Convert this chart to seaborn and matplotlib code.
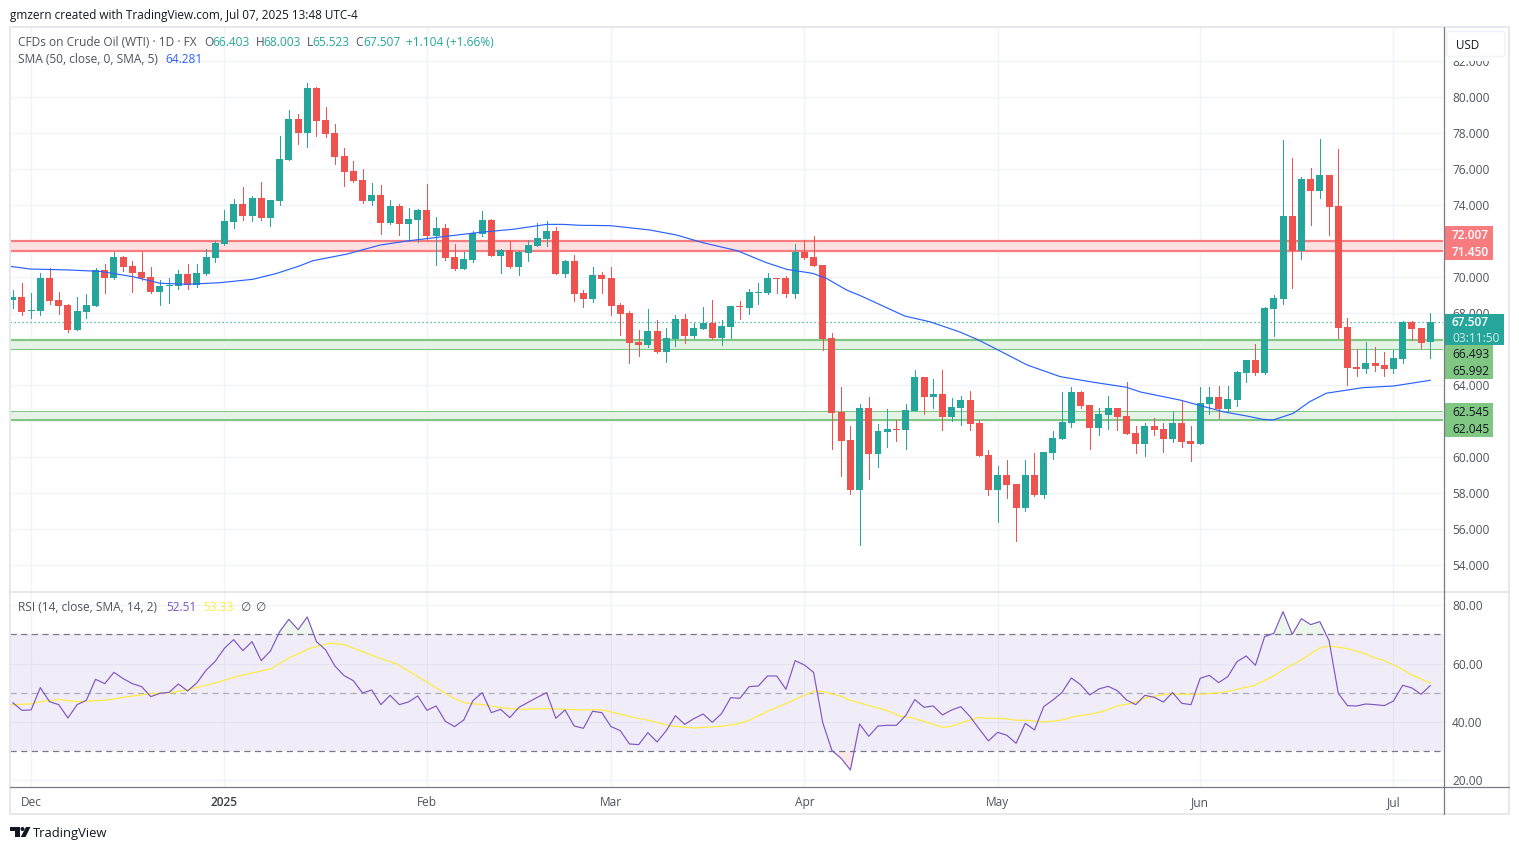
import numpy as np
import pandas as pd
import seaborn as sns
import matplotlib
matplotlib.use('Agg')
import matplotlib.pyplot as plt
from matplotlib.patches import Rectangle, Polygon, Circle, FancyBboxPatch

# candles, one per trading day, Dec 2024 -> Jul 2025
opens = [
    68.74,68.91,68.15,68.13,69.96,68.74,68.46,67.07,68.07,68.41,
    70.41,69.96,71.13,70.63,70.30,70.02,69.18,69.52,69.52,70.18,
    69.57,70.18,71.07,71.85,73.07,74.07,73.41,74.41,73.30,74.24,
    76.52,78.80,78.02,80.52,78.74,78.02,76.74,75.91,75.41,74.24,
    74.57,73.02,73.96,72.96,73.18,73.74,72.30,72.74,71.13,70.46,
    70.96,72.41,73.18,71.18,71.52,70.57,71.35,71.74,72.13,72.57,
    70.18,70.91,69.13,68.79,70.13,69.96,68.46,68.02,66.41,66.24,
    67.02,65.85,66.57,67.68,66.74,67.13,67.46,66.63,67.24,68.41,
    68.29,69.13,69.13,69.96,69.96,69.07,71.41,71.13,70.68,66.63,
    62.52,60.96,58.18,62.74,60.18,61.41,61.57,61.52,62.57,64.46,
    63.35,63.52,62.24,62.74,63.18,61.91,60.13,58.18,59.02,58.52,
    57.18,59.02,57.91,60.24,61.02,61.91,63.63,62.91,61.63,62.35,
    62.74,62.30,61.35,60.74,61.74,61.57,61.02,61.91,60.91,60.74,
    62.96,63.35,62.68,63.18,64.68,65.41,64.68,68.24,68.79,73.41,
    71.46,75.46,74.79,75.68,73.96,67.24,65.02,64.91,65.24,65.13,
    64.91,65.46,67.52,67.18,66.40]
closes = [
    68.91,68.07,68.18,69.96,68.68,68.41,67.07,68.13,68.46,70.41,
    69.96,71.13,70.57,70.24,69.96,69.18,69.52,69.57,70.18,69.57,
    70.24,71.13,71.91,73.13,74.07,73.41,74.41,73.30,74.30,76.57,
    78.80,78.02,80.52,78.68,77.96,76.68,75.85,75.35,74.24,74.57,
    73.02,73.96,72.96,73.24,73.74,72.30,72.74,71.07,70.46,71.02,
    72.46,73.18,71.18,71.52,70.57,71.41,71.80,72.18,72.57,70.18,
    70.91,69.07,68.79,70.13,69.91,68.41,67.96,66.35,66.24,67.02,
    65.85,66.63,67.68,66.74,67.18,67.46,66.63,67.29,68.41,68.35,
    69.18,69.18,69.96,69.91,69.07,71.41,71.07,70.63,66.57,62.46,
    60.91,58.18,62.74,60.18,61.46,61.57,61.52,62.63,64.46,63.35,
    63.52,62.24,62.80,63.18,61.85,60.07,58.18,59.02,58.46,57.18,
    59.02,57.91,60.30,61.07,61.96,63.63,62.85,61.63,62.41,62.74,
    62.24,61.30,60.74,61.74,61.52,61.02,61.91,60.85,60.74,63.02,
    63.35,62.68,63.24,64.74,65.41,64.68,68.29,68.85,73.41,71.46,
    75.46,74.79,75.68,73.91,67.18,64.96,64.91,65.24,65.07,64.91,
    65.52,67.52,67.13,66.35,67.51]
highs = [
    69.29,69.67,69.13,70.24,70.52,69.18,68.52,68.91,69.07,70.52,
    70.74,71.41,71.18,70.91,71.41,70.57,69.85,69.96,70.41,70.74,
    70.74,71.57,72.02,73.74,74.35,75.02,74.52,75.30,74.30,77.85,
    79.30,79.07,80.80,80.57,79.46,78.52,77.18,76.46,76.02,75.24,
    75.13,74.30,74.07,73.85,73.80,75.18,73.35,72.96,71.85,71.41,
    72.57,73.68,73.24,71.57,72.02,71.46,72.07,73.02,73.13,72.80,
    70.96,71.24,69.29,70.57,70.29,70.57,68.57,68.13,67.07,68.24,
    67.63,67.18,67.91,67.96,67.46,68.35,68.74,67.63,68.41,68.68,
    69.35,69.68,70.24,69.96,70.07,71.85,72.07,72.29,70.68,66.91,
    63.91,61.74,62.96,63.35,61.85,62.68,62.07,62.96,64.85,64.46,
    64.35,64.85,63.30,63.41,63.68,62.07,60.41,59.52,59.85,58.52,
    59.85,60.24,60.30,61.46,63.63,63.91,63.68,62.91,62.74,63.41,
    62.74,64.18,61.74,61.91,62.18,61.91,62.52,63.13,61.74,63.91,
    63.91,63.96,63.96,64.79,65.41,66.29,68.35,69.02,77.63,76.63,
    75.57,76.07,77.68,75.68,77.13,67.74,66.02,66.41,66.13,65.85,
    65.96,67.57,67.57,67.18,68.00]
lows = [
    68.30,67.91,67.74,67.91,68.52,67.96,66.96,67.07,67.74,68.41,
    69.13,69.91,70.35,69.18,69.85,69.13,68.46,68.57,69.35,69.35,
    69.46,70.13,70.85,71.80,72.74,73.18,73.13,73.18,72.85,74.02,
    76.52,77.41,77.24,77.85,77.80,76.30,75.07,75.30,74.13,74.02,
    72.41,72.96,72.35,72.02,71.96,72.07,70.68,70.96,70.41,70.46,
    70.85,72.30,71.18,70.24,70.52,70.13,70.91,71.74,71.74,70.18,
    70.02,68.68,68.35,68.63,69.13,67.91,66.79,65.24,65.63,66.13,
    65.79,65.29,66.18,66.35,66.63,67.13,66.57,66.24,66.63,67.68,
    67.96,68.52,69.07,69.13,68.91,68.85,71.02,70.63,65.96,60.46,
    58.96,57.96,55.13,58.80,59.46,60.57,60.91,60.46,62.57,62.41,
    62.74,61.52,62.02,61.80,61.52,60.07,57.91,56.41,57.74,55.35,
    57.02,57.85,57.74,59.91,61.02,61.68,62.74,60.46,61.24,61.57,
    61.52,61.30,60.24,60.07,61.24,60.29,60.85,60.57,59.79,60.74,
    62.41,62.18,62.52,62.85,64.18,64.57,64.63,66.74,68.52,69.41,
    71.02,72.91,74.41,72.35,66.63,64.02,64.52,64.68,64.79,64.52,
    64.68,65.24,66.52,66.07,65.52]

# SMA 50, read at bends of the line (bar position, price)
sma_pos = [-0.3,1.9,5.9,9.5,13.1,16,18.9,22.5,26.1,28.7,31.2,32.6,36.3,39.9,42.9,46.1,50.8,54.4,
           58,59.8,61.6,64.9,69.2,72.1,75,78.7,81.9,84.1,86.9,88.4,90.6,92,96.9,99.7,102.9,104.9,
           106.9,110.2,113.8,117.4,121,122.5,126.8,131.5,134.1,135.8,136.9,139.1,140.9,142.7,146.7,150,154]
sma_val = [70.61,70.46,70.41,70.33,70.03,69.67,69.61,69.70,69.89,70.22,70.64,70.92,71.29,71.79,72.02,72.22,72.5,72.67,
           72.94,72.94,72.89,72.87,72.63,72.35,71.92,71.48,70.81,70.44,70.22,69.94,69.29,69.0,67.85,67.52,66.96,66.52,
           66.0,65.13,64.48,64.17,63.89,63.63,63.18,62.53,62.29,62.11,62.07,62.44,63.09,63.56,63.87,63.96,64.28]

rsi = [
    46.63,44.00,44.11,51.77,46.97,45.94,41.37,45.94,47.43,54.63,
    53.14,57.03,54.86,53.14,52.11,48.69,49.83,50.17,53.03,50.63,
    53.37,57.71,60.80,65.26,68.23,64.46,67.54,61.03,64.34,70.97,
    75.20,71.66,76.00,67.54,64.69,59.20,55.89,54.17,49.94,50.97,
    45.94,49.14,45.94,46.86,48.91,44.00,45.49,40.23,38.40,40.69,
    47.31,50.06,43.20,44.34,41.49,45.03,46.74,48.46,50.06,41.26,
    44.11,38.63,37.83,43.66,43.20,38.40,37.03,32.46,32.23,36.34,
    33.14,37.03,42.17,39.20,41.14,42.74,39.89,42.86,48.34,48.11,
    52.11,52.34,55.77,55.77,51.20,61.03,59.54,57.03,39.77,30.17,
    27.54,23.54,39.31,35.09,38.63,38.86,38.86,42.17,47.66,45.03,
    45.49,42.40,44.11,45.26,41.83,37.60,33.49,36.46,35.43,32.69,
    39.54,37.26,45.26,47.54,50.17,55.09,52.80,49.26,51.31,52.23,
    50.74,47.54,45.94,49.14,48.46,46.86,50.06,46.40,45.94,54.97,
    56.00,53.49,55.54,60.69,62.63,59.43,69.26,70.40,77.83,70.06,
    75.43,73.37,74.40,67.89,49.83,45.60,45.49,46.17,45.94,45.60,
    47.20,52.57,51.66,49.49,52.51]

rsi_ma_pos = [-0.2,1.9,3,5,7,10,12,14.9,17.1,18.9,21.1,22.9,24,25.8,28,30.1,32.3,34.3,35.9,38.1,39.9,41.7,43.9,46.1,47.9,49.3,51.2,
              53,54.9,58,62,63.8,65.3,67.4,69.2,71.4,74,76.9,78.7,80.1,82.3,84.1,85.2,87,87.9,89.9,91,92.8,95,96.4,97.9,99.3,101,102,103.3,105,105.8,
              107.3,109.1,110.2,112,113.8,115.6,117,118.5,120,121.8,123.2,125.4,127.2,129.4,131.5,134.8,137,138.1,139.5,142,143,145,146.8,147.8,148.9,150.7,151.8,154]
rsi_ma_val = [45.94,46.17,46.97,47.66,46.97,47.43,48.46,49.71,50.06,50.97,52.69,54.17,55.31,56.69,58.17,62.06,65.26,66.97,66.63,64.0,61.83,59.89,55.77,51.54,48.11,46.4,45.94,
              44.91,44.34,44.57,44.11,44.23,43.2,41.6,40.46,38.63,37.94,38.51,39.31,40.69,44.11,46.4,48.11,50.51,50.51,48.91,47.43,45.83,43.89,42.06,41.26,39.89,38.17,38.51,40.0,41.6,41.26,
              41.26,40.57,40.57,40.0,40.57,42.06,42.63,43.66,45.49,46.63,48.34,49.6,49.49,49.6,50.17,52.46,55.77,58.06,60.34,65.37,66.06,65.14,63.54,62.17,61.14,58.51,56.46,53.33]

price_ticks = list(range(54, 84, 2))
# these three sit under the coloured price boxes, so they get no label
hidden_ticks = [62, 66, 72]
rsi_ticks = [20, 40, 60, 80]
month_pos = [2, 23, 45, 65, 86, 107, 129, 150]
month_labels = ['Dec', '2025', 'Feb', 'Mar', 'Apr', 'May', 'Jun', 'Jul']
red_zone = [72.007, 71.45]
green_zone1 = [66.493, 65.992]
green_zone2 = [62.545, 62.045]
green_extra = 62.15
last_close = 67.507

GREEN = '#26a69a'
RED = '#ef5350'
GRID = '#f0f3fa'
TXT = '#50535e'
AXIS = '#787b86'
ZONE_R = '#f77c80'
ZONE_G = '#81c784'
YELLOW = '#ffeb3b'

W, H = 1519, 850
sns.set_theme(style='white')
plt.rcParams['font.family'] = ['Open Sans', 'DejaVu Sans']
plt.rcParams['font.size'] = 8.6

fig = plt.figure(figsize=(W / 100, H / 100), dpi=100, facecolor='white')


def pane(left, top, right, bottom):
    return fig.add_axes([left / W, 1 - bottom / H, (right - left) / W, (bottom - top) / H])


ax = pane(10, 27, 1443.3, 591)
ax2 = pane(10, 592, 1443.3, 786.7)

df = pd.DataFrame({'open': opens, 'high': highs, 'low': lows, 'close': closes})
df['pos'] = np.arange(len(df))
df['up'] = df['close'] >= df['open']
df['top'] = df[['open', 'close']].max(axis=1)
df['bot'] = df[['open', 'close']].min(axis=1)

# main pane
for p in price_ticks:
    ax.axhline(p, color=GRID, lw=1, zorder=0)
for m in month_pos:
    ax.axvline(m, color=GRID, lw=1, zorder=0)
    ax2.axvline(m, color=GRID, lw=1, zorder=0)

ax.axhspan(red_zone[1], red_zone[0], color='#ffe1e2', lw=0, zorder=1)
ax.axhline(red_zone[0], color=ZONE_R, lw=1.6, zorder=1.5)
ax.axhline(red_zone[1], color=ZONE_R, lw=1.6, zorder=1.5)
ax.axhspan(green_zone1[1], green_zone1[0], color='#e4f3e5', lw=0, zorder=1)
ax.axhline(green_zone1[0], color=ZONE_G, lw=1.6, zorder=1.5)
ax.axhline(green_zone1[1], color=ZONE_G, lw=0.8, zorder=1.5)
ax.axhspan(green_zone2[1], green_zone2[0], color='#e4f3e5', lw=0, zorder=1)
for lvl in [green_zone2[0], green_extra, green_zone2[1]]:
    ax.axhline(lvl, color=ZONE_G, lw=0.72, zorder=1.5)
ax.axhline(last_close, color=GREEN, lw=0.9, ls=(0, (1, 2.2)), zorder=1.6)

for up, col in [(True, GREEN), (False, RED)]:
    d = df[df['up'] == up]
    ax.vlines(d['pos'], d['low'], d['high'], color=col, lw=0.72, zorder=3, antialiased=False)
    ax.bar(d['pos'], (d['top'] - d['bot']).clip(lower=0.06), bottom=d['bot'], width=0.76, color=col,
           lw=0, zorder=3, antialiased=False)

sns.lineplot(x=sma_pos, y=sma_val, ax=ax, color='#2962ff', lw=0.85, sort=False, estimator=None, errorbar=None, zorder=4)

ax.set_xlim(-0.293, 155.41)
ax.set_ylim(52.572, 83.906)
ax.set_yticks(price_ticks)
ax.set_yticklabels(['' if p in hidden_ticks else '%.3f' % p for p in price_ticks])
ax.set_xticks([])
ax.yaxis.tick_right()
ax.tick_params(axis='y', length=0, pad=6.3, labelsize=8.6, labelcolor=TXT)
ax.set_xlabel('')
ax.set_ylabel('')

# RSI pane
for r in rsi_ticks:
    ax2.axhline(r, color=GRID, lw=1, zorder=0)
ax2.axhspan(30, 70, color='#7e57c2', alpha=0.1, lw=0, zorder=1)
ax2.axhline(70, color=AXIS, lw=0.9, ls=(0, (5, 3.5)), zorder=2)
ax2.axhline(50, color=AXIS, lw=0.9, ls=(0, (5, 3.5)), alpha=0.55, zorder=2)
ax2.axhline(30, color=AXIS, lw=0.9, ls=(0, (5, 3.5)), zorder=2)

rsi_pos = np.arange(len(rsi))
rsi_arr = np.array(rsi)
ax2.fill_between(rsi_pos, 70, rsi_arr, where=rsi_arr > 70, interpolate=True, color='#4caf50', alpha=0.1, lw=0, zorder=2)
ax2.fill_between(rsi_pos, 30, rsi_arr, where=rsi_arr < 30, interpolate=True, color='#ef5350', alpha=0.13, lw=0, zorder=2)
sns.lineplot(x=rsi_ma_pos, y=rsi_ma_val, ax=ax2, color=YELLOW, lw=0.85, sort=False, estimator=None, errorbar=None, zorder=3)
sns.lineplot(x=rsi_pos, y=rsi_arr, ax=ax2, color='#7e57c2', lw=0.85, sort=False, estimator=None, errorbar=None, zorder=4)

ax2.set_xlim(-0.293, 155.41)
ax2.set_ylim(17.81, 84.56)
ax2.set_yticks(rsi_ticks)
ax2.set_yticklabels(['%.2f' % r for r in rsi_ticks])
ax2.yaxis.tick_right()
ax2.set_xticks(month_pos)
ax2.set_xticklabels(month_labels)
ax2.tick_params(axis='y', length=0, pad=6.3, labelsize=8.6, labelcolor=TXT)
ax2.tick_params(axis='x', length=0, pad=6.9, labelsize=8.6, labelcolor=TXT)
ax2.get_xticklabels()[1].set_fontweight('semibold')
ax2.get_xticklabels()[1].set_color('#3c3f4a')
ax2.set_xlabel('')
ax2.set_ylabel('')

for a in (ax, ax2):
    for s in a.spines.values():
        s.set_visible(False)

# chrome drawn in pixel coordinates
ov = fig.add_axes([0, 0, 1, 1], zorder=10)
ov.set_xlim(0, W)
ov.set_ylim(H, 0)
ov.axis('off')

ov.add_patch(Rectangle((10, 27), 1499, 787, fill=False, ec='#e6e8ee', lw=1.4))
ov.plot([10, 1509], [591.5, 591.5], color='#e0e3eb', lw=1.2)
ov.plot([10, 1509], [786.7, 786.7], color=AXIS, lw=0.9)
ov.plot([1443.5, 1443.5], [27, 814], color=AXIS, lw=0.9)

# the currency button masks the top of the 82.000 label
ov.add_patch(Rectangle((1445, 28), 63, 32.5, fc='white', lw=0))
ov.add_patch(FancyBboxPatch((1447, 31.5), 58, 25, boxstyle='round,pad=0,rounding_size=3', fc='white', ec='#f0f3fa', lw=1))
ov.text(1456, 45, 'USD', color='#131722', fontsize=8.4, va='center')


def price_box(top, bottom, right, col, labels):
    ov.add_patch(Rectangle((1444, top), right - 1444, bottom - top, fc=col, lw=0))
    for y, txt, tc, weight in labels:
        ov.text(1452, y, txt, color=tc, fontsize=8.6, va='center', fontweight=weight)


price_box(226, 260, 1493, ZONE_R, [(235, '%.3f' % red_zone[0], 'white', 'semibold'),
                                   (252, '%.3f' % red_zone[1], 'white', 'semibold')])
price_box(314, 345, 1504, GREEN, [(323, '%.3f' % last_close, 'white', 'semibold'),
                                  (338, '03:11:50', '#d2eeeb', 'normal')])
price_box(345, 379, 1493, ZONE_G, [(354, '%.3f' % green_zone1[0], '#131722', 'normal'),
                                   (371, '%.3f' % green_zone1[1], '#131722', 'normal')])
price_box(403, 437, 1493, ZONE_G, [(412, '%.3f' % green_zone2[0], '#131722', 'normal'),
                                   (429, '%.3f' % green_zone2[1], '#131722', 'normal')])

ov.text(10, 15.5, 'gmzern created with TradingView.com, Jul 07, 2025 13:48 UTC-4', color='#131722', fontsize=8.5, va='center')

legend = [
    (18, 42.5, 'CFDs on Crude Oil (WTI) · 1D · FX', TXT), (204, 42.5, 'O', TXT), (212.7, 42.5, '66.403', GREEN),
    (255.7, 42.5, 'H', TXT), (263, 42.5, '68.003', GREEN), (307, 42.5, 'L', TXT), (312.7, 42.5, '65.523', GREEN),
    (355.7, 42.5, 'C', TXT), (363.3, 42.5, '67.507', GREEN), (406.3, 42.5, '+1.104 (+1.66%)', GREEN),
    (18, 59.5, 'SMA (50, close, 0, SMA, 5)', TXT), (165, 59.5, '64.281', '#2962ff'),
    (18, 607.5, 'RSI (14, close, SMA, 14, 2)', TXT), (166, 607.5, '52.51', '#7e57c2'), (203, 607.5, '53.33', YELLOW),
    (240.5, 607.5, '∅', TXT), (255.5, 607.5, '∅', TXT),
]
for x, y, txt, col in legend:
    ov.text(x, y, txt, color=col, fontsize=8.55, va='center')

# logo
ov.add_patch(Polygon([(10, 827), (19.5, 827), (19.5, 837), (15, 837), (15, 831), (10, 831)], fc='#131722', lw=0))
ov.add_patch(Circle((22.5, 829), 2, fc='#131722', lw=0))
ov.add_patch(Polygon([(26, 827), (30.5, 827), (25.5, 837), (20.8, 837)], fc='#131722', lw=0))
ov.text(33, 833, 'TradingView', color='#131722', fontsize=9.4, va='center')

fig.savefig('out.png', dpi=100)
